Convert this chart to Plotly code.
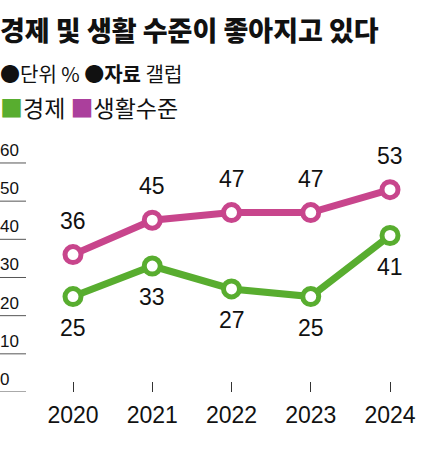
import plotly.graph_objects as go

years = [2020, 2021, 2022, 2023, 2024]
economy = [25, 33, 27, 25, 41]
living = [36, 45, 47, 47, 53]
y_ticks = [0, 10, 20, 30, 40, 50, 60]

title_text = "경제 및 생활 수준이 좋아지고 있다"
source_text = "●단위 % ●<b>자료</b> 갤럽"
series_names = ["경제", "생활수준"]

GREEN = "#58ad2f"
PINK = "#c8458c"
PINK_LEG = "#ab3f9c"
FONT = "Noto Sans CJK KR"
NUMFONT = "Liberation Sans"

W, H = 440, 454
T, B = 151, 62
plot_h = H - T - B
y_max = plot_h / 3.817

def py(pixel):
    # pixel row -> paper y
    return (H - B - pixel) / plot_h

fig = go.Figure()

fig.add_trace(go.Scatter(
    x=years, y=living, mode="lines+markers",
    line=dict(color=PINK, width=7),
    marker=dict(size=16, color="white", line=dict(color=PINK, width=5)),
    showlegend=False, hoverinfo="skip"))
fig.add_trace(go.Scatter(
    x=years, y=economy, mode="lines+markers",
    line=dict(color=GREEN, width=7),
    marker=dict(size=16, color="white", line=dict(color=GREEN, width=5)),
    showlegend=False, hoverinfo="skip"))

ann = []
for x, v in zip(years, living):
    ann.append(dict(x=x, y=v, text=str(v), showarrow=False, yshift=34,
                    font=dict(family=NUMFONT, size=23, color="#111")))
for x, v in zip(years, economy):
    ann.append(dict(x=x, y=v, text=str(v), showarrow=False, yshift=-31,
                    font=dict(family=NUMFONT, size=23, color="#111")))

shapes = []
for t in y_ticks:
    ann.append(dict(xref="paper", x=0, y=t, yref="y", text=str(t), showarrow=False,
                    xanchor="left", yanchor="bottom", yshift=1, xshift=-2,
                    font=dict(family=NUMFONT, size=17, color="#111")))
    shapes.append(dict(type="line", xref="paper", x0=0, x1=26 / W, yref="y", y0=t, y1=t,
                       line=dict(color="#555", width=1)))

# title, source, legend
ann.append(dict(xref="paper", yref="paper", x=0, y=py(29), xanchor="left", yanchor="middle",
                text=title_text, showarrow=False, xshift=-2,
                font=dict(family=FONT, size=27, color="#111", weight=900)))
ann.append(dict(xref="paper", yref="paper", x=0, y=py(73), xanchor="left", yanchor="middle",
                text=source_text, showarrow=False, xshift=-2,
                font=dict(family=FONT, size=20, color="#111")))
ann.append(dict(xref="paper", yref="paper", x=0, y=py(107), xanchor="left", yanchor="middle",
                text=f"<span style='color:{GREEN}'>■</span>{series_names[0]} "
                     f"<span style='color:{PINK_LEG}'>■</span>{series_names[1]}",
                showarrow=False, xshift=-2, font=dict(family=FONT, size=23, color="#111")))

px_per_year = 79.25
x0 = 2020 - 73 / px_per_year
x1 = x0 + W / px_per_year

fig.update_layout(
    width=W, height=H,
    margin=dict(l=0, r=0, t=T, b=B),
    paper_bgcolor="white", plot_bgcolor="white",
    xaxis=dict(range=[x0, x1], tickvals=years, ticktext=[str(y) for y in years],
               ticks="inside", ticklen=10, tickwidth=1, tickcolor="#333",
               showgrid=False, zeroline=False, showline=False,
               tickfont=dict(family=NUMFONT, size=23, color="#111"),
               ticklabelstandoff=7, fixedrange=True),
    yaxis=dict(range=[0, y_max], showticklabels=False, showgrid=False,
               zeroline=False, showline=False, fixedrange=True),
    annotations=ann, shapes=shapes,
)

fig.write_html("out.html", config={"displayModeBar": False},
               post_script="document.body.style.margin='0';")
